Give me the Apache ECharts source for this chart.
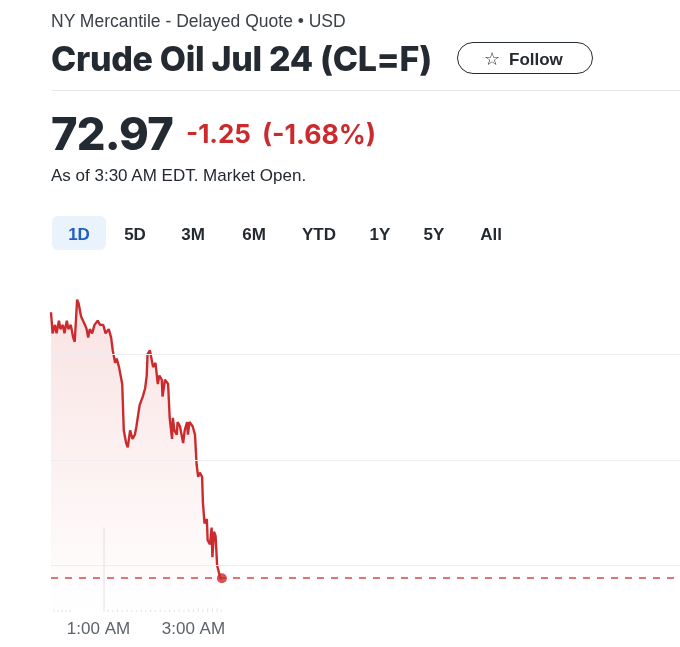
<!DOCTYPE html>
<html>
<head>
<meta charset="utf-8">
<script src="https://cdn.jsdelivr.net/npm/echarts@6/dist/echarts.min.js"></script>
<style>
  html, body { margin: 0; padding: 0; background: #fff; }
  body { width: 680px; height: 647px; position: relative; overflow: hidden; font-family: "Liberation Sans", Arial, sans-serif; color: #232a31; }
  #chart { position: absolute; left: 0; top: 0; width: 680px; height: 647px; }
  .t { position: absolute; white-space: nowrap; line-height: 1; z-index: 2; }
  .heavy { font-family: Inter, "Liberation Sans", sans-serif; font-weight: 800; }
  .tab { position: absolute; transform: translateX(-50%); font-size: 17px; font-weight: bold; line-height: 1; z-index: 2; top: 225.8px; color: #232a31; }
</style>
</head>
<body>
<div id="chart"></div>
<div class="t" style="left:51px;top:12.7px;font-size:17.5px;color:#3b4148;">NY Mercantile - Delayed Quote • USD</div>
<div class="t heavy fit" data-w="381" data-cap="47" style="left:51px;top:42.6px;font-size:34px;color:#232a31;letter-spacing:-0.3px;">Crude Oil Jul 24 (CL=F)</div>
<div style="position:absolute;left:457px;top:42px;width:134px;height:30px;border:1.6px solid #232a31;border-radius:17px;z-index:2;"></div>
<div class="t" style="left:484px;top:50px;font-size:18px;color:#232a31;font-family:'DejaVu Sans';">☆</div>
<div class="t" style="left:509px;top:50.6px;font-size:17px;font-weight:bold;color:#232a31;">Follow</div>
<div style="position:absolute;left:52px;top:90px;width:628px;height:1px;background:#e3e6ea;z-index:2;"></div>
<div class="t heavy fit" data-w="122" data-cap="117" style="left:51px;top:110.9px;font-size:48px;color:#232a31;letter-spacing:-0.8px;">72.97</div>
<div class="t heavy fit" data-w="65" data-cap="125" style="left:186px;top:121.4px;font-size:28px;font-weight:700;color:#cc2b2e;">-1.25</div>
<div class="t heavy fit" data-w="114" data-cap="125" style="left:262px;top:121.4px;font-size:28px;font-weight:700;color:#cc2b2e;">(-1.68%)</div>
<div class="t" style="left:51px;top:166.8px;font-size:17px;color:#232a31;">As of 3:30 AM EDT. Market Open.</div>
<div style="position:absolute;left:52px;top:216px;width:54px;height:34px;border-radius:6px;background:#eaf2fc;z-index:1;"></div>
<div class="tab" style="left:79px;color:#1f5fbf;">1D</div>
<div class="tab" style="left:135px;">5D</div>
<div class="tab" style="left:193px;">3M</div>
<div class="tab" style="left:254px;">6M</div>
<div class="tab" style="left:319px;">YTD</div>
<div class="tab" style="left:380px;">1Y</div>
<div class="tab" style="left:434px;">5Y</div>
<div class="tab" style="left:491px;">All</div>
<script>
// Minutes after midnight (EDT)
const minutes = [0,2,5,7,10,12,15,17,20,22,25,28,30,33,35,38,40,43,45,47,49,52,55,59,62,66,69,73,76,78,81,83,86,90,92,95,97,100,103,106,108,112,116,119,121,122,125,127,129,132,135,137,140,141,144,148,150,153,154,156,159,160,163,167,169,172,173,175,179,182,184,186,188,191,192,194,197,198,201,203,204,206,208,210,212,214,216];
// Price (USD)
const prices = [73.60,73.55,73.57,73.55,73.58,73.56,73.57,73.55,73.58,73.56,73.57,73.54,73.53,73.63,73.62,73.59,73.59,73.57,73.56,73.54,73.56,73.55,73.57,73.58,73.57,73.57,73.55,73.56,73.54,73.51,73.48,73.49,73.47,73.43,73.32,73.29,73.28,73.32,73.30,73.31,73.33,73.38,73.40,73.42,73.45,73.50,73.51,73.51,73.47,73.48,73.43,73.45,73.44,73.40,73.44,73.43,73.35,73.30,73.35,73.32,73.31,73.34,73.33,73.29,73.32,73.34,73.31,73.34,73.33,73.31,73.24,73.21,73.22,73.21,73.15,73.10,73.11,73.06,73.05,73.09,73.02,73.08,73.07,73.00,73.00,72.97,72.97];
// Volume
const volMinutes = [4,9,14,19,24,67,72,78,84,90,96,102,108,114,120,126,132,138,144,150,156,162,168,174,180,186,192,198,204,210,215];
const volValues  = [3,2,3,2,3,92,3,2,3,2,3,2,2,3,2,3,2,3,2,3,2,3,2,3,3,4,3,4,4,4,3];
// Horizontal guide lines (price levels)
const gridLevels = [73.00, 73.25, 73.50];
// Time axis labels
const timeTickValues = [60, 180];
const timeTickLabels = ['1:00 AM', '3:00 AM'];

// Fit heavy header text to reference widths
document.querySelectorAll('.fit').forEach(el => {
  const target = parseFloat(el.dataset.w);
  let fs = parseFloat(el.style.fontSize);
  for (let k = 0; k < 3; k++) {
    const w = el.getBoundingClientRect().width;
    fs = fs * target / w;
    el.style.fontSize = fs + 'px';
  }
  el.style.top = (parseFloat(el.dataset.cap) - 0.1365 * fs) + 'px';
});

const lastPrice = prices[prices.length - 1];
const lastMinute = minutes[minutes.length - 1];
const RED = '#cc2b2e';

const chart = echarts.init(document.getElementById('chart'), null, { renderer: 'canvas' });
chart.setOption({
  animation: false,
  backgroundColor: '#ffffff',
  grid: [
    { left: 51, right: 0, top: 270, bottom: 35 },
    { left: 51, right: 0, top: 520, bottom: 35 }
  ],
  xAxis: [
    {
      type: 'value', gridIndex: 0, min: 0, max: 795, interval: 60,
      axisLine: { show: false }, axisTick: { show: false }, splitLine: { show: false },
      axisLabel: {
        margin: 9, fontSize: 17, color: '#5c636b', fontFamily: 'Liberation Sans',
        showMinLabel: false, showMaxLabel: false,
        formatter: v => { const i = timeTickValues.indexOf(v); return i >= 0 ? timeTickLabels[i] : ''; }
      }
    },
    { type: 'value', gridIndex: 1, min: 0, max: 795, show: false }
  ],
  yAxis: [
    { type: 'value', gridIndex: 0, min: 72.89, max: 73.70, show: false, splitLine: { show: false } },
    { type: 'value', gridIndex: 1, min: 0, max: 100, show: false, splitLine: { show: false } }
  ],
  series: [
    {
      type: 'bar', xAxisIndex: 1, yAxisIndex: 1, barWidth: 1, silent: true,
      itemStyle: { color: '#e2e2e2' },
      data: volMinutes.map((m, i) => [m, volValues[i]]),
      z: 1
    },
    {
      type: 'line', xAxisIndex: 0, yAxisIndex: 0, showSymbol: false, silent: true,
      lineStyle: { color: RED, width: 2.4 },
      itemStyle: { color: RED },
      areaStyle: {
        color: new echarts.graphic.LinearGradient(0, 0, 0, 1, [
          { offset: 0, color: 'rgba(214,50,55,0.2)' },
          { offset: 1, color: 'rgba(214,50,55,0.0)' }
        ])
      },
      data: minutes.map((m, i) => [m, prices[i]]),
      markLine: {
        silent: true, symbol: 'none', label: { show: false },
        data: gridLevels.map(v => ({ yAxis: v, lineStyle: { color: '#eceef1', width: 1, type: 'solid' } }))
          .concat([{ yAxis: lastPrice, lineStyle: { color: '#d2474a', width: 1.5, type: [7, 7] } }])
      },
      z: 3
    },
    {
      type: 'scatter', xAxisIndex: 0, yAxisIndex: 0, silent: true,
      symbol: 'circle', symbolSize: 10,
      itemStyle: { color: RED },
      data: [[lastMinute, lastPrice]],
      z: 5
    }
  ]
});
</script>
</body>
</html>
